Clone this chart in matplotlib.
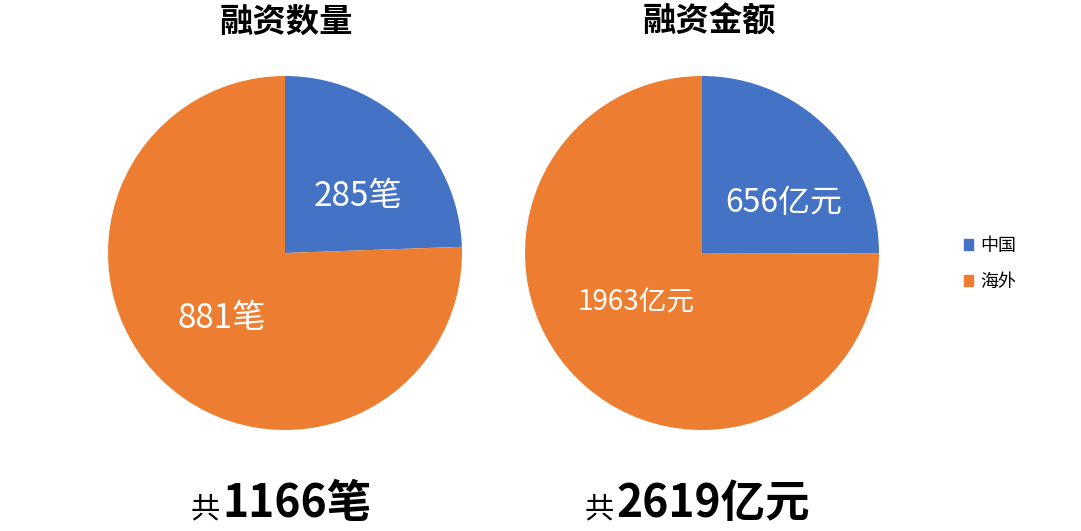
import matplotlib.pyplot as plt
from matplotlib.patches import Patch

plt.rcParams['font.family'] = ['Noto Sans CJK SC', 'DejaVu Sans']

# 数据
categories = ['中国', '海外']
count_values = [285, 881]
amount_values = [656, 1963]
count_labels = ['285笔', '881笔']
amount_labels = ['656亿元', '1963亿元']
titles = ['融资数量', '融资金额']
totals = ['1166笔', '2619亿元']
colors = ['#4472C4', '#ED7D31']

W, H = 1081, 531
fig = plt.figure(figsize=(W / 100, H / 100), dpi=100)

r = 177
centers = [(285, 253), (702, 253)]
title_x = [286, 709]
series = [count_values, amount_values]
labels = [count_labels, amount_labels]
# 标签位置 (相对半径) 和字号
label_pos = [[(0.41, 0.32), (-0.36, -0.37)], [(0.46, 0.28), (-0.37, -0.28)]]
label_size = [[24, 24], [23, 20]]

for i in range(2):
    cx, cy = centers[i]
    ax = fig.add_axes([(cx - r) / W, (H - cy - r) / H, 2 * r / W, 2 * r / H])
    ax.pie(series[i], colors=colors, startangle=90, counterclock=False,
           radius=1, wedgeprops=dict(linewidth=0))
    ax.set_xlim(-1, 1)
    ax.set_ylim(-1, 1)
    ax.set_aspect('equal')
    ax.axis('off')
    for j in range(2):
        x, y = label_pos[i][j]
        ax.text(x, y, labels[i][j], ha='center', va='center', color='white',
                fontsize=label_size[i][j])
    # 标题
    fig.text(title_x[i] / W, (H - 22) / H, titles[i], ha='center', va='center',
             fontsize=24, fontweight='bold')

# 底部合计
fig.text(220 / W, 14 / H, '共', ha='right', va='baseline', fontsize=21)
fig.text(222 / W, 14 / H, totals[0], ha='left', va='baseline', fontsize=32,
         fontweight='bold')
fig.text(614 / W, 14 / H, '共', ha='right', va='baseline', fontsize=21)
fig.text(616 / W, 14 / H, totals[1], ha='left', va='baseline', fontsize=32,
         fontweight='bold')

# 图例
handles = [Patch(color=c) for c in colors]
fig.legend(handles, categories, loc='center left',
           bbox_to_anchor=(948 / W, (H - 264) / H), frameon=False,
           fontsize=13, handlelength=0.5, handleheight=0.5,
           labelspacing=1.0, handletextpad=0.4)

fig.savefig('out.png', dpi=100, facecolor='white')
